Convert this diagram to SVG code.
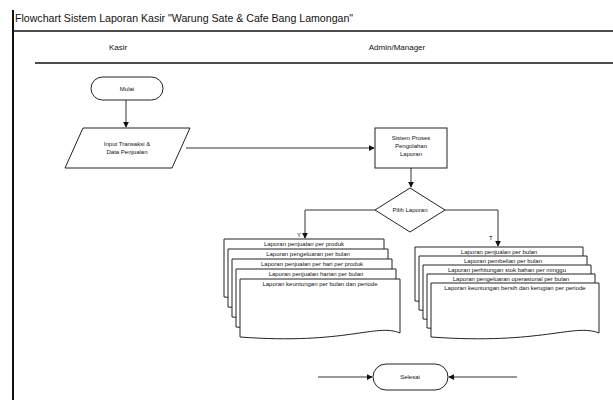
<svg xmlns="http://www.w3.org/2000/svg" width="613" height="400" viewBox="0 0 613 400">
<style>
text{font-family:"Liberation Sans",Arial,sans-serif;fill:#111}
.t{font-size:10.6px}
.h{font-size:8px}
.d{font-size:6px}
.sh{fill:#fff;stroke:#222;stroke-width:1}
.ln{fill:none;stroke:#333;stroke-width:1}
.fr{stroke:#111;fill:none}
</style>
<defs>
<marker id="ar" viewBox="0 0 8 8" refX="7" refY="4" markerWidth="6" markerHeight="6" orient="auto">
<path d="M0,0 L8,4 L0,8 Z" fill="#111"/>
</marker>
</defs>
<rect x="0" y="0" width="613" height="400" fill="#fff"/>
<g id="frame">
<line class="fr" x1="13" y1="10" x2="13" y2="400" stroke-width="2"/>
<line class="fr" x1="13" y1="31" x2="613" y2="31" stroke-width="1.5"/>
<line class="fr" x1="35" y1="63" x2="613" y2="63" stroke-width="1.5"/>
<text class="t" x="15" y="22">Flowchart Sistem Laporan Kasir "Warung Sate &amp; Cafe Bang Lamongan"</text>
<text class="h" x="118" y="50" text-anchor="middle">Kasir</text>
<text class="h" x="397" y="50" text-anchor="middle">Admin/Manager</text>
</g>
<g id="connectors">
<line class="ln" x1="126" y1="100" x2="126" y2="127" marker-end="url(#ar)"/>
<line class="ln" x1="186" y1="148" x2="374" y2="148" marker-end="url(#ar)"/>
<line class="ln" x1="411" y1="168" x2="411" y2="187" marker-end="url(#ar)"/>
<polyline class="ln" points="375,210 305,210 305,238" marker-end="url(#ar)"/>
<polyline class="ln" points="445,210 498,210 498,246" marker-end="url(#ar)"/>
<line class="ln" x1="318" y1="377" x2="372" y2="377" marker-end="url(#ar)"/>
<line class="ln" x1="517" y1="377" x2="449" y2="377" marker-end="url(#ar)"/>
<text class="d" x="297" y="237">Y</text>
<text class="d" x="489" y="240">T</text>
</g>
<g id="start">
<rect class="sh" x="91" y="77" width="72" height="23" rx="11.5"/>
<text class="d" x="127" y="91" text-anchor="middle">Mulai</text>
</g>
<g id="input">
<polygon class="sh" points="83,128 190,128 172,168 65,168"/>
<text class="d" x="127" y="146" text-anchor="middle">Input Transaksi &amp;</text>
<text class="d" x="127" y="154" text-anchor="middle">Data Penjualan</text>
</g>
<g id="process">
<rect class="sh" x="375" y="128" width="72" height="40"/>
<text class="d" x="411" y="140" text-anchor="middle">Sistem Proses</text>
<text class="d" x="411" y="148" text-anchor="middle">Pengolahan</text>
<text class="d" x="411" y="156" text-anchor="middle">Laporan</text>
</g>
<g id="decision">
<polygon class="sh" points="410,188 445,210 410,232 375,210"/>
<text class="d" x="410" y="212" text-anchor="middle">Pilih Laporan</text>
</g>
<g id="docs-left">
<path class="sh" d="M224,239 H384 V293 C360,283 330,305 224,297 Z"/>
<text class="d" x="304" y="246" text-anchor="middle">Laporan penjualan per produk</text>
<path class="sh" d="M228,249 H388 V303 C364,293 334,315 228,307 Z"/>
<text class="d" x="308" y="256" text-anchor="middle">Laporan pengeluaran per bulan</text>
<path class="sh" d="M232,259 H392 V313 C368,303 338,325 232,317 Z"/>
<text class="d" x="312" y="266" text-anchor="middle">Laporan penjualan per hari per produk</text>
<path class="sh" d="M236,269 H396 V323 C372,313 342,335 236,327 Z"/>
<text class="d" x="316" y="276" text-anchor="middle">Laporan penjualan harian per bulan</text>
<path class="sh" d="M240,279 H400 V333 C376,323 346,345 240,337 Z"/>
<text class="d" x="320" y="286" text-anchor="middle">Laporan keuntungan per bulan dan periode</text>
</g>
<g id="docs-right">
<path class="sh" d="M415,247 H583 V297 C558,287 526,309 415,301 Z"/>
<text class="d" x="499" y="254" text-anchor="middle">Laporan penjualan per bulan</text>
<path class="sh" d="M419,256 H587 V306 C562,296 530,318 419,310 Z"/>
<text class="d" x="503" y="263" text-anchor="middle">Laporan pembelian per bulan</text>
<path class="sh" d="M423,265 H591 V315 C566,305 534,327 423,319 Z"/>
<text class="d" x="507" y="272" text-anchor="middle">Laporan perhitungan stok bahan per minggu</text>
<path class="sh" d="M427,274 H595 V324 C570,314 538,336 427,328 Z"/>
<text class="d" x="511" y="281" text-anchor="middle">Laporan pengeluaran operasional per bulan</text>
<path class="sh" d="M431,283 H599 V333 C574,323 542,345 431,337 Z"/>
<text class="d" x="515" y="290" text-anchor="middle">Laporan keuntungan bersih dan kerugian per periode</text>
</g>
<g id="end">
<rect class="sh" x="373" y="364" width="75" height="26" rx="13"/>
<text class="d" x="410" y="379" text-anchor="middle">Selesai</text>
</g>
</svg>
